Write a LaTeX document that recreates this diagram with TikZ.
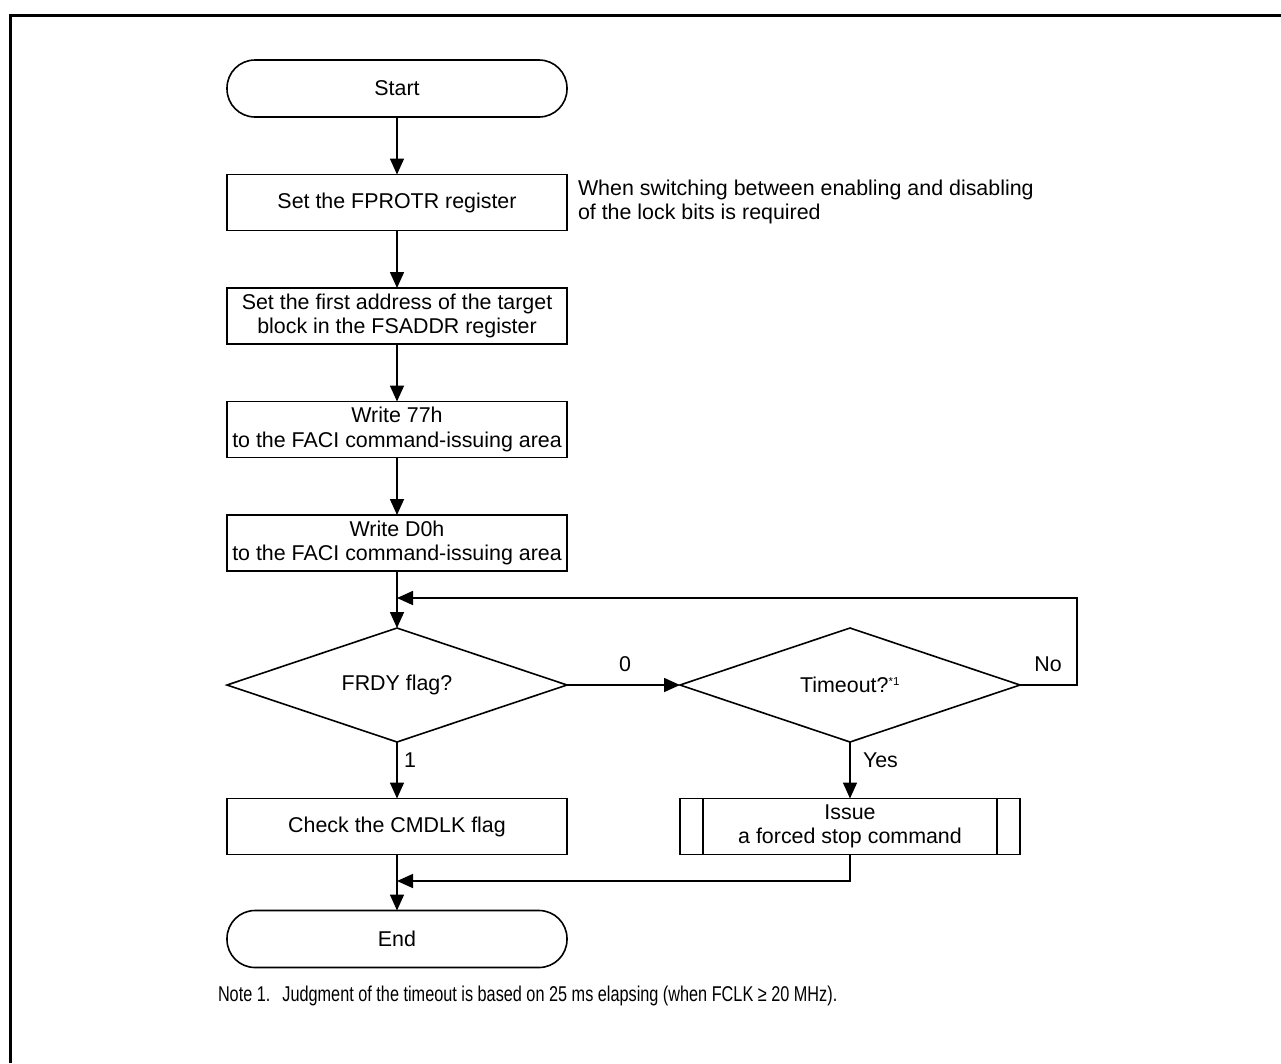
\documentclass[tikz,border=0pt]{standalone}
\usepackage{fontspec}
\setmainfont{Liberation Sans}
\newfontfamily\narrowfont[FakeStretch=0.76]{Liberation Sans}
\usetikzlibrary{shapes.geometric,arrows.meta,calc}
\begin{document}
\begin{tikzpicture}[x=1pt,y=-1pt,
  font=\fontsize{21.4}{24.5}\selectfont,
  every node/.style={outer sep=0pt},
  ln/.style={line width=1.6pt},
  arr/.style={ln,-{Triangle[length=16pt,width=14pt]}},
  procbox/.style={draw,ln,minimum width=340pt,minimum height=56pt,inner sep=2pt,align=center},
  term/.style={draw,ln,minimum width=340pt,minimum height=57pt,rounded corners=28pt,align=center},
  decide/.style={draw,ln,diamond,minimum width=340pt,minimum height=114pt,inner sep=0pt,aspect=3},
  lbl/.style={inner sep=0pt}
]
\useasboundingbox (0,0) rectangle (1281,1063);
% frame (cropped)
\draw[line width=3pt] (10,1063) -- (10,15) -- (1281,15);

\node[term] (start) at (397,88.5) {Start};
\node[procbox] (b1) at (397,202.5) {Set the FPROTR register};
\node[lbl,anchor=west,align=left] (note1) at (578,202) {When switching between enabling and disabling\\of the lock bits is required};
\node[procbox] (b2) at (397,316) {Set the first address of the target\\block in the FSADDR register};
\node[procbox] (b3) at (397,429.5) {Write 77h\\to the FACI command-issuing area};
\node[procbox] (b4) at (397,543) {Write D0h\\to the FACI command-issuing area};
\coordinate (merge) at (397,598);
\node[decide] (frdy) at (397,685) {FRDY flag?};
\node[decide] (tmo) at (850,685) {Timeout?\textsuperscript{\fontsize{11.5}{12}\selectfont *1}};
\node[procbox] (chk) at (397,826.5) {Check the CMDLK flag};
\node[procbox] (pre) at (850,826.5) {Issue\\a forced stop command};
\draw[ln] ($(pre.north west)+(23,0)$) -- ($(pre.south west)+(23,0)$);
\draw[ln] ($(pre.north east)+(-23,0)$) -- ($(pre.south east)+(-23,0)$);
\node[term] (end) at (397,939) {End};
\coordinate (join) at (397,881);

\draw[arr] (start) -- (b1);
\draw[arr] (b1) -- (b2);
\draw[arr] (b2) -- (b3);
\draw[arr] (b3) -- (b4);
\draw[arr] (b4) -- (frdy.north);
\draw[arr] (tmo.east) -- (1077,685) -- (1077,598) -- (merge);
\draw[arr] (frdy.east) -- (tmo.west);
\draw[arr] (frdy.south) -- (chk.north);
\draw[arr] (tmo.south) -- (pre.north);
\draw[arr] (chk.south) -- (end.north);
\draw[arr] (pre.south) |- (join);

\node[lbl] (l0) at (625,664) {0};
\node[lbl] (lno) at (1048,664) {No};
\node[lbl,anchor=west] (l1) at (404,760) {1};
\node[lbl,anchor=west] (lyes) at (863,760) {Yes};

\node[lbl,anchor=west,font=\narrowfont\fontsize{21.4}{24}\selectfont] (fn) at (218,996) {Note 1.\hspace{12pt}Judgment of the timeout is based on 25 ms elapsing (when FCLK ≥ 20 MHz).};
\end{tikzpicture}
\end{document}
